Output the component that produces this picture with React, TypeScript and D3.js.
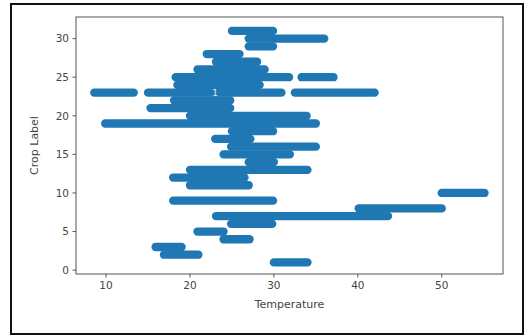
import React from "react";
import * as d3 from "d3";

// Each segment: crop label, temperature start, temperature end (dense runs of scatter points)
const segLabel = [31, 30, 29, 28, 27, 26, 25, 25, 24, 23, 23, 23, 22, 21, 20, 19, 18, 17, 16, 15, 14, 13, 12, 11, 10, 9, 8, 7, 6, 5, 4, 3, 2, 1];
const segStart = [25.0, 27.0, 27.0, 22.0, 23.1, 20.9, 18.3, 33.3, 18.5, 8.6, 15.0, 32.5, 18.1, 15.3, 20.0, 9.9, 25.0, 23.0, 24.9, 24.0, 27.0, 20.0, 18.0, 20.0, 50.0, 18.0, 40.1, 23.1, 24.9, 20.9, 24.0, 15.9, 16.9, 30.0];
const segEnd = [29.9, 36.0, 29.9, 25.9, 28.0, 28.9, 31.8, 37.1, 28.3, 13.3, 30.9, 42.0, 24.8, 24.8, 33.9, 35.0, 29.9, 27.2, 35.0, 31.9, 30.0, 34.0, 26.5, 27.0, 55.1, 29.9, 50.0, 43.6, 29.8, 24.0, 27.1, 19.0, 21.0, 34.0];

const xTicks = [10, 20, 30, 40, 50];
const yTicks = [0, 5, 10, 15, 20, 25, 30];
const xLimits = [6.42, 57.3];
const yLimits = [-0.5, 32.8];

export default function App() {
  const W = 525, H = 336;
  const left = 76, right = 503, top = 17, bottom = 274;
  const x = d3.scaleLinear().domain(xLimits).range([left, right]);
  const y = d3.scaleLinear().domain(yLimits).range([bottom, top]);
  const color = "#1f77b4";
  const font = "DejaVu Sans, sans-serif";
  const line = d3.line<[number, number]>().x((d) => x(d[0])).y((d) => d[1]);

  return (
    <svg width={W} height={H} style={{ position: "absolute", left: 0, top: 0, background: "#fff" }}>
      <rect x={0} y={0} width={W} height={H} fill="#fff" />
      <defs>
        <clipPath id="plotclip">
          <rect x={left} y={top} width={right - left} height={bottom - top} />
        </clipPath>
      </defs>
      <g clipPath="url(#plotclip)">
        {segLabel.map((lab, i) => (
          <path
            key={i}
            d={line([[segStart[i], y(lab)], [segEnd[i], y(lab)]]) || ""}
            stroke={color}
            strokeWidth={8.3}
            strokeLinecap="round"
            fill="none"
          />
        ))}
        <text x={x(23)} y={y(23) + 3.5} fill="#dfe9f3" fontSize={9} fontFamily={font} textAnchor="middle">1</text>
      </g>
      {/* spines */}
      <rect x={left} y={top} width={right - left} height={bottom - top} fill="none" stroke="#555" strokeWidth={1} />
      {/* x ticks */}
      {xTicks.map((t) => (
        <g key={"x" + t}>
          <line x1={x(t)} x2={x(t)} y1={bottom} y2={bottom + 3.5} stroke="#555" strokeWidth={1} />
          <text x={x(t)} y={bottom + 15} fontSize={10.5} fontFamily={font} fill="#444" textAnchor="middle">{t}</text>
        </g>
      ))}
      {/* y ticks */}
      {yTicks.map((t) => (
        <g key={"y" + t}>
          <line x1={left - 3.5} x2={left} y1={y(t)} y2={y(t)} stroke="#555" strokeWidth={1} />
          <text x={left - 7} y={y(t) + 3.8} fontSize={10.5} fontFamily={font} fill="#444" textAnchor="end">{t}</text>
        </g>
      ))}
      <text x={(left + right) / 2} y={308} fontSize={11} fontFamily={font} fill="#444" textAnchor="middle">Temperature</text>
      <text transform={`translate(38,${(top + bottom) / 2}) rotate(-90)`} fontSize={11} fontFamily={font} fill="#444" textAnchor="middle">Crop Label</text>
      {/* outer frame */}
      <rect x={11} y={4} width={512} height={330} fill="none" stroke="#111" strokeWidth={2} />
    </svg>
  );
}
